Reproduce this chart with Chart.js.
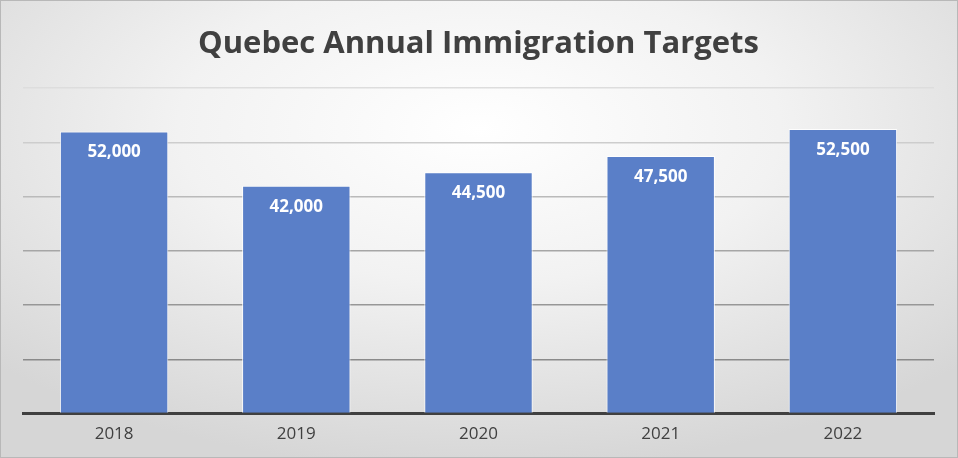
<!DOCTYPE html>
<html>
<head>
<meta charset="utf-8">
<script src="https://cdn.jsdelivr.net/npm/chart.js@4"></script>
<style>
  html, body { margin: 0; padding: 0; }
  #wrap {
    width: 956px; height: 456px;
    border: 1px solid #b8b8b8;
    background: radial-gradient(ellipse 70% 75% at 50% 28%, #ffffff 0%, #f2f2f2 45%, #d6d6d6 100%);
  }
  canvas { display: block; }
</style>
</head>
<body>
<div id="wrap"><canvas id="chart" width="956" height="456"></canvas></div>
<script>
const years = ['2018', '2019', '2020', '2021', '2022'];
const targets = [52000, 42000, 44500, 47500, 52500];

// grid shades get darker toward the baseline
const gridShades = {
  10000: '#8a8a8a',
  20000: '#979797',
  30000: '#a6a6a6',
  40000: '#bababa',
  50000: '#cdcdcd',
  60000: '#dddddd'
};

const valueLabels = {
  id: 'valueLabels',
  afterDatasetsDraw(chart) {
    const { ctx } = chart;
    const meta = chart.getDatasetMeta(0);
    ctx.save();
    ctx.fillStyle = '#ffffff';
    ctx.font = 'bold 17px "Open Sans"';
    ctx.textAlign = 'center';
    ctx.textBaseline = 'middle';
    meta.data.forEach((bar, i) => {
      ctx.fillText(targets[i].toLocaleString('en-US'), bar.x, bar.y + 21);
    });
    ctx.restore();
  }
};

new Chart(document.getElementById('chart'), {
  type: 'bar',
  data: {
    labels: years,
    datasets: [{
      data: targets,
      backgroundColor: '#5a7fc8',
      borderColor: 'rgba(255,255,255,0.85)',
      borderWidth: 1,
      categoryPercentage: 1,
      barPercentage: 0.595
    }]
  },
  options: {
    responsive: false,
    animation: false,
    layout: { padding: { left: 22, right: 23, top: 0, bottom: 3 } },
    plugins: {
      legend: { display: false },
      tooltip: { enabled: false },
      title: {
        display: true,
        text: 'Quebec Annual Immigration Targets',
        color: '#404040',
        font: { family: '"Open Sans"', size: 31, weight: 'bold', lineHeight: 1.2 },
        padding: { top: 25, bottom: 25 }
      }
    },
    scales: {
      x: {
        grid: { display: false, drawTicks: false },
        border: { display: true, color: '#404040', width: 3 },
        ticks: { color: '#404040', font: { family: '"Open Sans"', size: 17 }, padding: 10 }
      },
      y: {
        min: 0,
        max: 60000,
        ticks: { display: false, stepSize: 10000 },
        border: { display: false },
        grid: {
          drawTicks: false,
          lineWidth: 1.5,
          color: (c) => gridShades[c.tick.value] || 'rgba(0,0,0,0)'
        }
      }
    }
  },
  plugins: [valueLabels]
});
</script>
</body>
</html>
